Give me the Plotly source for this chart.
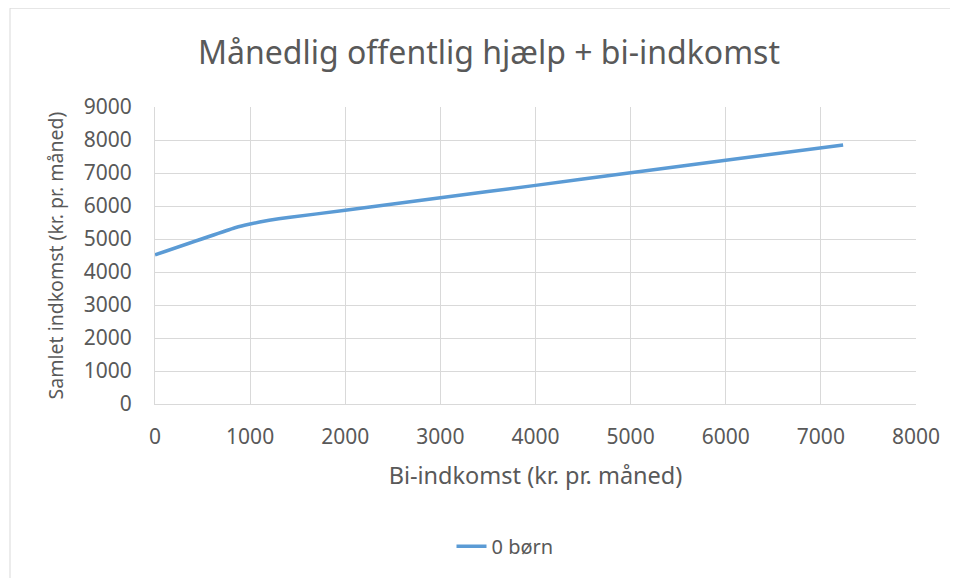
import plotly.graph_objects as go

# Data
bi_indkomst = [0, 850, 1000, 1200, 1400, 2000, 3000, 4000, 5000, 6000, 7234]
samlet_indkomst = [4520, 5350, 5455, 5570, 5650, 5870, 6250, 6625, 7005, 7385, 7847]
series_name = "0 børn"
x_ticks = [0, 1000, 2000, 3000, 4000, 5000, 6000, 7000, 8000]
y_ticks = [0, 1000, 2000, 3000, 4000, 5000, 6000, 7000, 8000, 9000]

FONT = "Noto Sans"
GRAY = "#595959"
GRID = "#d9d9d9"

fig = go.Figure()
fig.add_trace(go.Scatter(
    x=bi_indkomst, y=samlet_indkomst, mode="lines", name=series_name,
    line=dict(color="#5B9BD5", width=3.5, shape="spline", smoothing=0.3),
))

# page body adds an 8px offset, so the figure is laid out 8px smaller
OFF = 8
W, H = 958 - OFF, 578 - OFF
L, T = 155 - OFF, 107 - OFF
R = W - (916 - OFF)
B = H - (404.5 - OFF)
pw, ph = W - L - R, H - T - B

def px_x(p):
    return (p - OFF - L) / pw

def px_y(p):
    return (H - B - (p - OFF)) / ph

fig.update_layout(
    width=W, height=H,
    margin=dict(l=L, r=R, t=T, b=B),
    paper_bgcolor="white", plot_bgcolor="white",
    font=dict(family=FONT, color=GRAY),
    title=dict(text="Månedlig offentlig hjælp + bi-indkomst",
               font=dict(size=32, color=GRAY, family=FONT),
               xref="paper", x=px_x(489), xanchor="center",
               yref="container", y=1 - (53 - OFF) / H, yanchor="middle"),
    xaxis=dict(range=[0, 8000], tickvals=x_ticks, showgrid=True, gridcolor=GRID,
               gridwidth=1, zeroline=False, showline=True, linecolor=GRID,
               ticks="", ticklabelstandoff=14,
               tickfont=dict(size=21, color=GRAY), fixedrange=True,
               title=dict(text="Bi-indkomst (kr. pr. måned)",
                          font=dict(size=23.5, color=GRAY), standoff=18)),
    yaxis=dict(range=[0, 9000], tickvals=y_ticks, showgrid=True, gridcolor=GRID,
               gridwidth=1, zeroline=False, showline=True, linecolor=GRID,
               ticks="", ticklabelstandoff=18,
               tickfont=dict(size=21, color=GRAY), fixedrange=True,
               title=dict(text="Samlet indkomst (kr. pr. måned)",
                          font=dict(size=19.5, color=GRAY), standoff=14)),
    showlegend=True,
    legend=dict(orientation="h", x=px_x(505), xanchor="center",
                y=px_y(547), yanchor="middle",
                font=dict(size=20, color=GRAY), bgcolor="rgba(0,0,0,0)"),
    shapes=[dict(type="rect", xref="paper", yref="paper",
                 x0=px_x(10), x1=px_x(1010), y0=px_y(8), y1=px_y(620),
                 line=dict(color=GRID, width=1), layer="below")],
)

fig.write_html("out.html")
